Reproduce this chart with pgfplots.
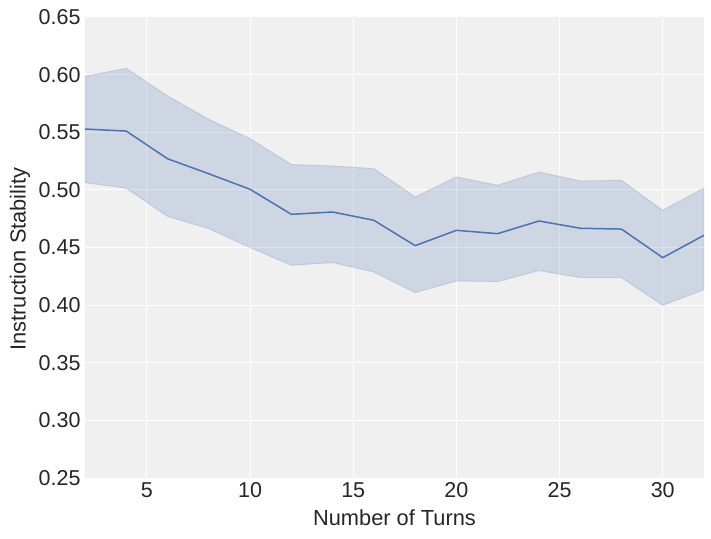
\documentclass[border=0pt]{standalone}
\usepackage{pgfplots}
\pgfplotsset{compat=1.18}
\usepackage{fontspec}
\setmainfont{Liberation Sans}
\definecolor{bg}{HTML}{F0F0F0}
\definecolor{sblue}{HTML}{4C72B0}
\definecolor{txt}{HTML}{262626}
\begin{document}
\begin{tikzpicture}
\useasboundingbox (-85pt,-60pt) rectangle (626pt,478pt);
\begin{axis}[
  at={(0,0)}, anchor=south west,
  width=619pt, height=461pt, scale only axis,
  xmin=2, xmax=32, ymin=0.25, ymax=0.65,
  xtick={5,10,15,20,25,30},
  ytick={0.25,0.30,0.35,0.40,0.45,0.50,0.55,0.60,0.65},
  y tick label style={/pgf/number format/fixed, /pgf/number format/fixed zerofill, /pgf/number format/precision=2},
  /pgf/number format/assume math mode=true,
  axis line style={draw=none},
  axis background/.style={fill=bg},
  grid=major,
  major grid style={white, line width=1pt},
  tick style={draw=none},
  ticklabel style={font=\fontsize{21.5}{25}\selectfont, text=txt},
  y tick label style={xshift=-1pt},
  x tick label style={yshift=-1pt},
  xlabel={Number of Turns},
  ylabel={Instruction Stability},
  label style={font=\fontsize{21.8}{25}\selectfont, text=txt},
  xlabel style={at={(axis description cs:0.5,-0.087)}, anchor=center},
  ylabel style={at={(axis description cs:-0.105,0.475)}, anchor=center},
]
\addplot[fill=sblue, fill opacity=0.2, draw=sblue, draw opacity=0.2, line width=1pt] coordinates {
(2,0.5985) (4,0.6055) (6,0.5815) (8,0.5612) (10,0.5445) (12,0.522) (14,0.5207) (16,0.5185)
(18,0.4938) (20,0.5112) (22,0.504) (24,0.5155) (26,0.5077) (28,0.5083) (30,0.4823) (32,0.5016)
(32,0.4135) (30,0.3998) (28,0.4239) (26,0.4239) (24,0.430) (22,0.4204) (20,0.4209) (18,0.4109)
(16,0.4288) (14,0.4369) (12,0.4346) (10,0.450) (8,0.4664) (6,0.477) (4,0.5014) (2,0.5063)
} -- cycle;
\addplot[sblue, line width=1.5pt] coordinates {
(2,0.5528) (4,0.551) (6,0.527) (8,0.514) (10,0.5005) (12,0.4788) (14,0.4808) (16,0.4736)
(18,0.4516) (20,0.4649) (22,0.462) (24,0.473) (26,0.4667) (28,0.466) (30,0.4412) (32,0.4606)
};
\end{axis}
\end{tikzpicture}
\end{document}
